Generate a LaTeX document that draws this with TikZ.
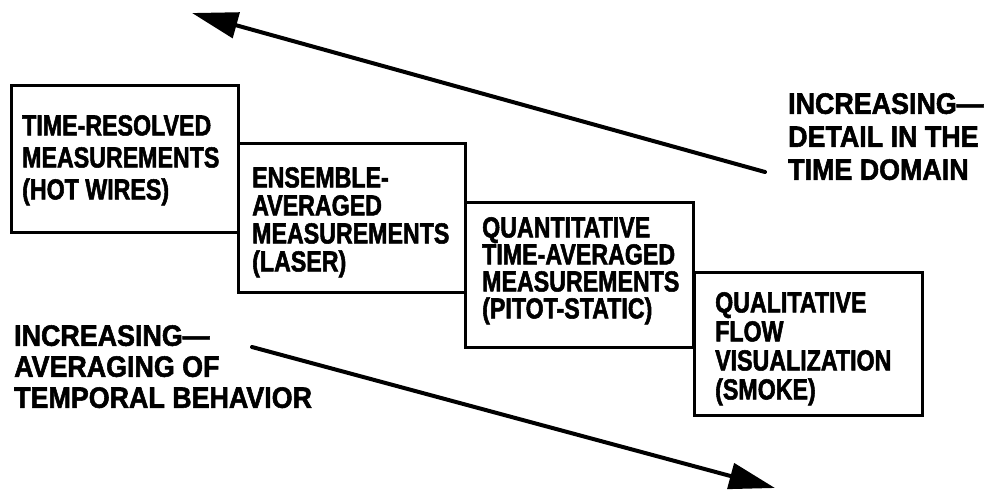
\documentclass[tikz,border=0pt]{standalone}
\usepackage{fontspec}
\setmainfont{Liberation Sans}
\newfontfamily\panelface{Liberation Sans}[FakeStretch=0.80, BoldFeatures={FakeBold=1.8}]
\newfontfamily\captionface{Liberation Sans}[FakeStretch=0.91, BoldFeatures={FakeBold=1.8}]
\usetikzlibrary{arrows.meta}

\begin{document}
\begin{tikzpicture}[x=1pt,y=-1pt,
  panel/.style={draw, line width=3pt, inner sep=0pt, rectangle},
  paneltext/.style={anchor=north west, inner sep=0pt, align=left,
    font=\panelface\bfseries\fontsize{29}{#1}\selectfont},
  captiontext/.style={anchor=north west, inner sep=0pt, align=left,
    font=\captionface\bfseries\fontsize{29.5}{#1}\selectfont},
  trend/.style={line width=4pt, line cap=round,
    -{Triangle[length=46pt,width=26pt]}}]

\useasboundingbox (0,0) rectangle (997,491);

% the four staircase panels
\node[panel, minimum width=227pt, minimum height=147pt] (p1) at (124.5,158.5) {};
\node[panel, minimum width=227pt, minimum height=149pt] (p2) at (351.5,217.5) {};
\node[panel, minimum width=228pt, minimum height=145pt] (p3) at (579,274.5) {};
\node[panel, minimum width=228pt, minimum height=143pt] (p4) at (808,343.5) {};

% panel texts
\node[paneltext=32] (t1) at (22,115) {TIME-RESOLVED\\MEASUREMENTS\\(HOT WIRES)};
\node[paneltext=28] (t2) at (252,167) {ENSEMBLE-\\AVERAGED\\MEASUREMENTS\\(LASER)};
\node[paneltext=27] (t3) at (482,217) {QUANTITATIVE\\TIME-AVERAGED\\MEASUREMENTS\\(PITOT-STATIC)};
\node[paneltext=29] (t4) at (715,292) {QUALITATIVE\\FLOW\\VISUALIZATION\\(SMOKE)};

% side captions
\node[captiontext=33] (detail) at (788,93) {INCREASING—\\DETAIL IN THE\\TIME DOMAIN};
\node[captiontext=31] (averaging) at (14,325) {INCREASING—\\AVERAGING OF\\TEMPORAL BEHAVIOR};

% trend arrows
\coordinate (detailTail) at (765,172);
\coordinate (detailTip) at (192,13);
\coordinate (avgTail) at (252,347);
\coordinate (avgTip) at (775,488);
\draw[trend] (detailTail) -- (detailTip);
\draw[trend] (avgTail) -- (avgTip);
\end{tikzpicture}
\end{document}
